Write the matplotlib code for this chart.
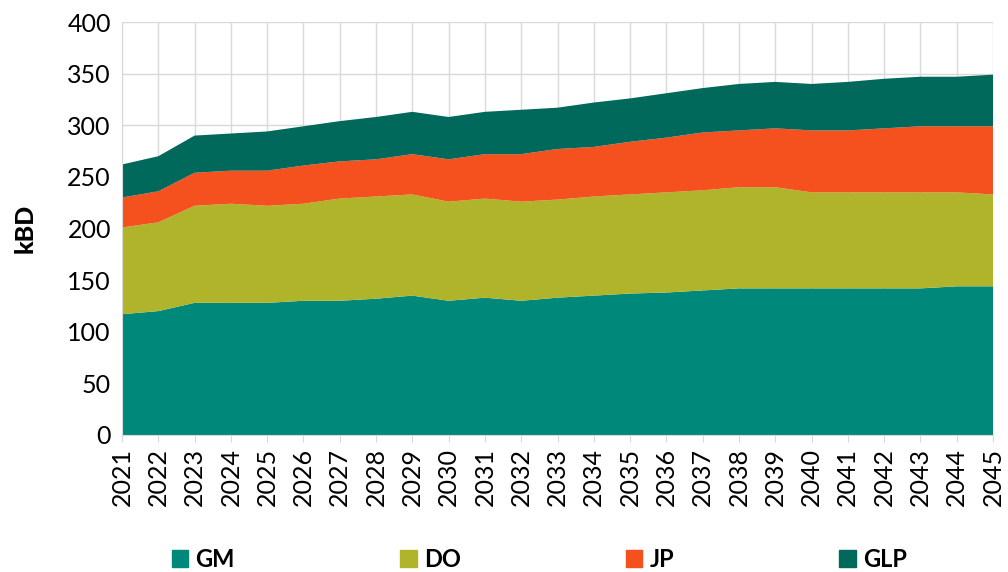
import numpy as np
import matplotlib.pyplot as plt
from matplotlib.patches import Patch

plt.rcParams['font.family'] = ['Lato', 'DejaVu Sans']

years = list(range(2021, 2046))
gm = [117, 120, 128, 128, 128, 130, 130, 132, 135, 130, 133, 130, 133,
      135, 137, 138, 140, 142, 142, 142, 142, 142, 142, 144, 144]
do = [84, 86, 94, 96, 94, 94, 99, 99, 98, 96, 96, 96, 95,
      96, 96, 97, 97, 98, 98, 93, 93, 93, 93, 91, 89]
jp = [29, 30, 32, 32, 34, 37, 36, 36, 39, 41, 43, 46, 49,
      48, 51, 53, 56, 55, 57, 60, 60, 62, 64, 64, 66]
glp = [32, 34, 36, 36, 38, 38, 39, 41, 41, 41, 41, 43, 40,
       43, 42, 43, 43, 45, 45, 45, 47, 48, 48, 48, 50]

labels = ['GM', 'DO', 'JP', 'GLP']
colors = ['#00897B', '#AFB42B', '#F4511E', '#00695C']

fig = plt.figure(figsize=(10.08, 5.72), dpi=100)
ax = fig.add_axes([122/1008, 1-435/572, (993-122)/1008, (435-22)/572])

ax.stackplot(years, gm, do, jp, glp, colors=colors, labels=labels,
             linewidth=0, zorder=2)

ax.set_xlim(2021, 2045)
ax.set_ylim(0, 400)
ax.set_yticks(np.arange(0, 401, 50))
ax.set_xticks(years)
ax.set_xticklabels([str(y) for y in years], rotation=90)
ax.grid(True, color='#d9d9d9', linewidth=1, zorder=0)
ax.set_axisbelow(True)
for s in ['top', 'right']:
    ax.spines[s].set_visible(False)
for s in ['left', 'bottom']:
    ax.spines[s].set_color('#d9d9d9')
ax.tick_params(axis='y', length=0, labelsize=18, pad=8)
ax.tick_params(axis='x', length=5, color='#d9d9d9', labelsize=18, pad=4)

ax.set_ylabel('kBD', fontsize=18, fontweight='black', labelpad=22)

handles = [Patch(color=c, label=l) for c, l in zip(colors, labels)]
fig.legend(handles=handles, loc='lower center', ncol=4, frameon=False,
           bbox_to_anchor=(0.535, -0.035), columnspacing=7.0,
           handlelength=0.7, handleheight=0.7, handletextpad=0.3,
           prop={'weight': 'bold', 'size': 17})

fig.savefig('out.png', dpi=100)
